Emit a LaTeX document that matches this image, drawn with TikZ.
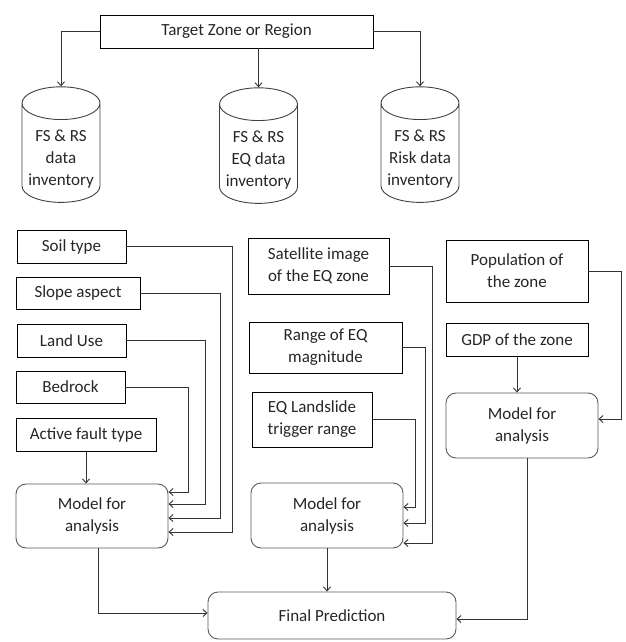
\documentclass[tikz,border=0pt]{standalone}
\usepackage{fontspec}
\setmainfont{Carlito}
\usepackage{tikz}
\usetikzlibrary{arrows.meta,shapes.geometric,positioning}
\newcommand{\invtext}[1]{\raisebox{-6pt}[\height][\depth]{\begin{tabular}{@{}c@{}}#1\end{tabular}}}
\tikzset{
  every picture/.style = {
    line width = 0.9pt,
    >={Straight Barb[length=4pt,width=7pt]},
    x = 1pt, y = -1pt,
  }
  ,
  % plain input boxes
  databox/.style = {
    rectangle,
    draw,
    inner sep = 0pt,
    align = center,
    text = black!85,
    font = \fontsize{17}{22}\selectfont
  }
  , % data inventories
  store/.style = {
    cylinder,
    shape border rotate = 90,
    aspect = 0.5,
    draw = black!75,
    inner sep = 0pt,
    minimum width = 78pt,
    minimum height = 109pt,
    text = black!85,
    font = \fontsize{17}{22}\selectfont
  }
  , % models
  model-box/.style = {
    databox,
    draw = black!65,
    rounded corners = 10pt,
    minimum width = 152pt,
    minimum height = 65pt
  }
  ,
  link/.style = {
    ->,
    draw = black!80
  }
}
\begin{document}
\begin{tikzpicture}
\useasboundingbox (0,0) rectangle (625,642);

\node [databox, minimum width=273pt, minimum height=33pt] (target) at (236.5,31.5) {Target Zone or Region};
\node [store] (inv1) at (61,153) {\invtext{FS \& RS\\data\\inventory}};
\node [store] (inv2) at (258.5,154) {\invtext{FS \& RS\\EQ data\\inventory}};
\node [store] (inv3) at (420,153) {\invtext{FS \& RS\\Risk data\\inventory}};

% left column
\node [databox, minimum width=109pt, minimum height=33pt] (soil) at (71.5,246.5) {Soil type};
\node [databox, minimum width=124pt, minimum height=32pt] (slope) at (78,293) {Slope aspect};
\node [databox, minimum width=109pt, minimum height=33pt] (land) at (71.5,340.5) {Land Use};
\node [databox, minimum width=109pt, minimum height=32pt] (bed) at (70.5,387) {Bedrock};
\node [databox, minimum width=140pt, minimum height=33pt] (fault) at (86,434.5) {Active fault type};
\node [model-box, minimum height=64pt] (modelL) at (92,516) {Model for\\analysis};

% middle column
\node [databox, minimum width=141pt, minimum height=56pt] (sat) at (318.5,266) {Satellite image\\of the EQ zone};
\node [databox, minimum width=153pt, minimum height=51pt] (range) at (325.5,347.5) {Range of EQ\\magnitude};
\node [databox, minimum width=120pt, minimum height=55pt] (trig) at (312,419.5) {EQ Landslide\\trigger range};
\node [model-box] (modelM) at (327,515.5) {Model for\\analysis};

% right column
\node [databox, minimum width=142pt, minimum height=62pt] (pop) at (517,271) {Population of\\the zone};
\node [databox, minimum width=142pt, minimum height=33pt] (gdp) at (517,339.5) {GDP of the zone};
\node [model-box] (modelR) at (522,425.5) {Model for\\analysis};

\node [model-box, minimum width=248pt, minimum height=47pt] (final) at (332,615.5) {Final Prediction};

\draw [link] (target.west) -| (inv1.north);
\draw [link] (inv2.north |- target.south) -- (inv2.north);
\draw [link] (target.east) -| (inv3.north);

\draw [link] (soil.east) -- ++(106,0) |- ([yshift=-16pt]modelL.east);
\draw [link] (slope.east) -- ++(80,0) |- ([yshift=-2pt]modelL.east);
\draw [link] (land.east) -- ++(79,0) |- ([yshift=12pt]modelL.east);
\draw [link] (bed.east) -- ++(63,0) |- ([yshift=24pt]modelL.east);
\draw [link] (fault.south) -- (fault.south |- modelL.north);

\draw [link] (sat.east) -- ++(43,0) |- ([yshift=-27.5pt]modelM.east);
\draw [link] (range.east) -- ++(23,0) |- ([yshift=-7.5pt]modelM.east);
\draw [link] (trig.east) -- ++(43,0) |- ([yshift=8.5pt]modelM.east);

\draw [link] (pop.east) -- ++(33,0) |- ([yshift=6.5pt]modelR.east);
\draw [link] (gdp.south) -- (gdp.south |- modelR.north);

\draw [link] ([xshift=6pt]modelL.south) |- ([yshift=2.5pt]final.west);
\draw [link] (modelM.south) -- (modelM.south |- final.north);
\draw [link] ([xshift=5pt]modelR.south) |- ([yshift=-3.5pt]final.east);
\end{tikzpicture}
\end{document}
